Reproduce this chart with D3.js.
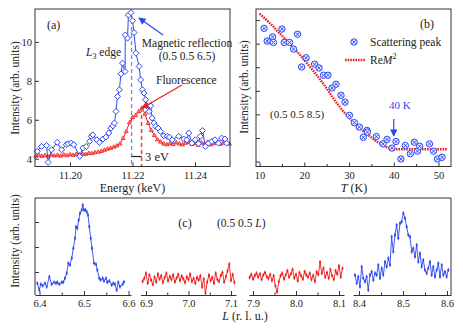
<!DOCTYPE html>
<html>
<head>
<meta charset="utf-8">
<script src="https://cdn.jsdelivr.net/npm/d3@7"></script>
<style>
  body { margin: 0; background: #fff; }
  svg text { font-family: "Liberation Serif", "Times New Roman", "DejaVu Serif", serif; }
  .tick text { font-size: 10.5px; fill: #222; }
  .tick line { stroke: #333; }
</style>
</head>
<body>
<svg id="chart" width="463" height="328"></svg>
<script>
// ---- panel (a): energy scans at the L3 edge ----
const aBlueE = [11.1895, 11.1909, 11.1925, 11.1930, 11.1941, 11.1959, 11.1973, 11.1988, 11.1994, 11.2004,
  11.2012, 11.2031, 11.2041, 11.2052, 11.2063, 11.2068, 11.2073, 11.2086, 11.2094, 11.2105,
  11.2115, 11.2124, 11.2131, 11.2137, 11.2142, 11.2147, 11.2152, 11.2158, 11.2163, 11.2168,
  11.2176, 11.2177, 11.2184, 11.2187, 11.2195, 11.2200, 11.2205, 11.2211, 11.2221, 11.2226,
  11.2232, 11.2237, 11.2242, 11.2248, 11.2253, 11.2258, 11.2263, 11.2269, 11.2274, 11.2282,
  11.2290, 11.2300, 11.2311, 11.2318, 11.2327, 11.2348, 11.2364, 11.2374, 11.2380, 11.2390,
  11.2401, 11.2411, 11.2417, 11.2424, 11.2433, 11.2443, 11.2454, 11.2464, 11.2475, 11.2485,
  11.2496, 11.2501];
const aBlueI = [4.38, 4.63, 4.68, 3.81, 4.46, 4.84, 4.46, 4.72, 4.77, 4.80,
  4.72, 4.12, 4.55, 4.63, 4.89, 5.15, 5.23, 4.97, 4.84, 5.01,
  5.11, 5.32, 5.57, 5.69, 5.83, 6.43, 7.20, 7.54, 8.36, 8.91,
  8.48, 10.36, 10.19, 11.38, 11.50, 11.09, 10.48, 9.42, 8.74, 8.05,
  7.54, 7.37, 7.03, 6.68, 6.43, 6.72, 6.09, 5.83, 5.66, 5.57,
  5.40, 5.18, 5.15, 5.11, 4.97, 5.15, 5.01, 4.97, 5.32, 4.80,
  4.97, 4.77, 5.15, 5.45, 4.63, 4.80, 4.89, 4.97, 4.80, 5.06,
  5.01, 4.80];
const aRedE = [11.189, 11.190, 11.191, 11.192, 11.193, 11.194, 11.195, 11.196, 11.197, 11.198,
  11.199, 11.200, 11.201, 11.202, 11.203, 11.204, 11.205, 11.206, 11.207, 11.208,
  11.209, 11.210, 11.211, 11.212, 11.213, 11.214, 11.215, 11.216, 11.217, 11.218,
  11.219, 11.220, 11.221, 11.222, 11.223, 11.224, 11.225, 11.226, 11.227, 11.228,
  11.229, 11.230, 11.231, 11.232, 11.233, 11.234, 11.235, 11.236, 11.237, 11.238,
  11.239, 11.240, 11.241, 11.242, 11.243, 11.244, 11.245, 11.246, 11.247, 11.248,
  11.249, 11.250, 11.251];
const aRedI = [4.12, 4.18, 4.13, 4.17, 4.11, 4.19, 4.15, 4.18, 4.14, 4.20,
  4.16, 4.21, 4.18, 4.23, 4.20, 4.25, 4.23, 4.28, 4.27, 4.32,
  4.34, 4.38, 4.44, 4.50, 4.54, 4.60, 4.66, 4.76, 5.05, 5.40,
  5.85, 6.12, 6.22, 6.42, 6.60, 6.30, 5.82, 5.45, 5.20, 4.98,
  4.86, 4.76, 4.72, 4.78, 4.74, 4.82, 4.76, 4.72, 4.80, 4.84,
  4.74, 4.79, 4.70, 4.82, 4.76, 4.85, 4.72, 4.78, 4.83, 4.74,
  4.80, 4.86, 4.76];
const aPeakE = [11.2197, 11.2229];          // blue (magnetic) and red (fluorescence) maxima
const aTicksX = [11.20, 11.22, 11.24];
const aTicksY = [4, 6, 8, 10];

// ---- panel (b): temperature dependence ----
const bPeakT = [11.0, 11.7, 12.5, 12.9, 13.1, 15.0, 15.5, 16.7, 17.6, 18.5,
  19.4, 20.4, 22.3, 23.3, 24.3, 25.3, 26.2, 27.1, 28.2, 29.1,
  30.1, 31.2, 32.3, 33.2, 34.0, 34.1, 36.1, 37.6, 38.5, 39.6,
  40.5, 41.6, 42.6, 43.7, 44.6, 45.3, 45.8, 48.0, 48.9, 49.8, 50.8];
const bPeakI = [5.65, 5.11, 5.11, 5.29, 5.05, 5.62, 5.05, 5.05, 4.77, 5.40,
  4.01, 4.40, 4.13, 3.97, 3.66, 3.66, 3.12, 3.28, 2.81, 2.52,
  1.96, 1.65, 1.46, 1.03, 1.32, 1.25, 1.06, 0.75, 0.94, 0.57,
  0.85, 0.11, 0.68, 0.33, 0.82, 0.44, 0.65, 0.75, 0.44, 0.11, 0.18];
const bReT = [10, 11, 12, 13, 14, 15, 16, 17, 18, 19, 20, 21, 22, 23, 24, 25, 26, 27, 28, 29,
  30, 31, 32, 33, 34, 35, 36, 37, 38, 39, 40, 42, 45, 48, 52];
const bReI = [6.27, 6.10, 5.92, 5.74, 5.53, 5.34, 5.15, 4.95, 4.74, 4.53, 4.31, 4.08, 3.85, 3.61,
  3.36, 3.10, 2.82, 2.55, 2.30, 2.07, 1.86, 1.67, 1.49, 1.32, 1.17, 1.02, 0.88, 0.76, 0.65, 0.56,
  0.52, 0.52, 0.52, 0.52, 0.52];
const bTicksX = [10, 20, 30, 40, 50];
const bMinorX = [15, 25, 35, 45];
const bTicksY = [0, 1, 2, 3, 4, 5, 6];
const bTransitionT = 40;

// ---- panel (c): L scans along (0.5 0.5 L) ----
const c1L = [6.3951, 6.3996, 6.4027, 6.4072, 6.4124, 6.4162, 6.4221, 6.4274, 6.4326, 6.4371,
  6.4400, 6.4445, 6.4499, 6.4535, 6.4573, 6.4611, 6.4647, 6.4685, 6.4724, 6.4760,
  6.4798, 6.4820, 6.4850, 6.4881, 6.4910, 6.4948, 6.4971, 6.5000, 6.5029, 6.5061,
  6.5090, 6.5119, 6.5151, 6.5180, 6.5225, 6.5270, 6.5299, 6.5344, 6.5375, 6.5420,
  6.5449, 6.5494, 6.5524, 6.5569, 6.5622, 6.5658, 6.5697, 6.5735, 6.5771, 6.5809,
  6.5870, 6.5899];
const c1I = [0.55, 0.28, 0.51, 0.45, 0.55, 0.41, 0.81, 0.51, 0.59, 0.55,
  0.59, 0.51, 0.59, 0.59, 0.75, 0.95, 1.35, 1.28, 1.55, 1.95,
  2.35, 2.81, 2.75, 3.08, 3.35, 3.48, 3.68, 3.48, 3.48, 3.41,
  3.28, 2.81, 2.35, 1.95, 1.35, 1.31, 1.08, 0.75, 0.68, 0.75,
  0.64, 0.75, 0.59, 0.64, 0.48, 0.55, 0.51, 0.28, 0.59, 0.41,
  0.51, 0.61];
const c2L = [6.892, 6.896, 6.900, 6.904, 6.908, 6.912, 6.916, 6.920, 6.924, 6.928,
  6.932, 6.936, 6.940, 6.944, 6.948, 6.952, 6.956, 6.960, 6.964, 6.968,
  6.972, 6.976, 6.980, 6.984, 6.988, 6.992, 6.996, 7.000, 7.004, 7.008,
  7.012, 7.016, 7.020, 7.024, 7.028, 7.032, 7.036, 7.040, 7.044, 7.048,
  7.052, 7.056, 7.060, 7.064, 7.068, 7.072, 7.076, 7.080, 7.084, 7.088,
  7.092, 7.096, 7.100, 7.104, 7.108];
const c2I = [0.62, 0.75, 0.95, 0.55, 0.88, 0.68, 0.50, 0.80, 0.60, 0.92,
  0.72, 0.85, 0.58, 0.78, 0.95, 0.65, 0.82, 0.70, 0.88, 0.60,
  0.76, 0.90, 0.66, 0.84, 0.72, 0.58, 0.80, 0.70, 0.92, 0.62,
  0.74, 0.55, 0.78, 0.68, 0.85, 0.40, 0.72, 0.16, 0.60, 0.88,
  0.66, 0.78, 0.55, 0.95, 0.70, 0.62, 0.86, 0.98, 0.60, 0.82,
  1.05, 1.32, 0.66, 0.90, 0.58];
const c3L = [7.892, 7.896, 7.900, 7.904, 7.908, 7.912, 7.916, 7.920, 7.924, 7.928,
  7.932, 7.936, 7.940, 7.944, 7.948, 7.952, 7.956, 7.960, 7.964, 7.968,
  7.972, 7.976, 7.980, 7.984, 7.988, 7.992, 7.996, 8.000, 8.004, 8.008,
  8.012, 8.016, 8.020, 8.024, 8.028, 8.032, 8.036, 8.040, 8.044, 8.048,
  8.052, 8.056, 8.060, 8.064, 8.068, 8.072, 8.076, 8.080, 8.084, 8.088,
  8.092, 8.096, 8.100, 8.104, 8.108];
const c3I = [0.78, 0.90, 0.72, 0.85, 0.95, 0.80, 0.92, 0.70, 0.88, 0.98,
  0.82, 0.74, 0.90, 0.66, 0.85, 0.45, 0.20, 0.62, 0.85, 0.95,
  0.72, 0.88, 1.05, 0.80, 0.92, 1.10, 0.76, 0.90, 0.65, 0.98,
  0.84, 0.72, 1.02, 0.88, 0.80, 0.95, 0.70, 0.86, 0.62, 1.00,
  0.90, 1.40, 0.95, 1.15, 0.80, 0.98, 0.75, 1.10, 0.85, 0.70,
  1.05, 0.92, 1.25, 0.80, 1.15];
const c4L = [8.3909, 8.3948, 8.3985, 8.4023, 8.4061, 8.4098, 8.4136, 8.4174, 8.4212, 8.4250,
  8.4288, 8.4326, 8.4364, 8.4402, 8.4439, 8.4477, 8.4515, 8.4553, 8.4591, 8.4629,
  8.4667, 8.4705, 8.4742, 8.4780, 8.4818, 8.4856, 8.4894, 8.4932, 8.4970, 8.5008,
  8.5045, 8.5083, 8.5121, 8.5159, 8.5197, 8.5235, 8.5273, 8.5311, 8.5348, 8.5386,
  8.5424, 8.5462, 8.5500, 8.5538, 8.5576, 8.5614, 8.5652, 8.5689, 8.5727, 8.5765,
  8.5803, 8.5841, 8.5879, 8.5917, 8.5955, 8.5992, 8.6030];
const c4I = [0.88, 0.55, 0.81, 0.41, 1.21, 0.75, 0.61, 0.81, 0.28, 0.88,
  1.01, 0.68, 0.95, 0.88, 1.28, 0.75, 1.15, 0.88, 1.41, 1.21,
  1.55, 1.28, 2.41, 1.81, 2.48, 2.88, 2.35, 2.95, 3.01, 3.35,
  3.15, 2.81, 2.48, 2.41, 1.81, 1.95, 1.61, 2.08, 1.41, 1.75,
  1.21, 1.48, 1.08, 0.95, 1.15, 1.41, 0.88, 1.21, 0.81, 1.08,
  1.35, 0.81, 1.28, 0.88, 1.01, 0.81, 1.08];
const cMajor = [[6.4, 6.5, 6.6], [6.9, 7.0, 7.1], [7.9, 8.0, 8.1], [8.4, 8.5, 8.6]];
const cMinor = [[6.45, 6.55], [6.95, 7.05], [7.95, 8.05], [8.45, 8.55]];
const cTicksY = [1, 2, 3];
const cErr = 0.08;

const BLUE = "#2b47f2", RED = "#f11c1c", INK = "#222";
const svg = d3.select("#chart");
const pairs = (xs, ys) => xs.map((x, i) => [x, ys[i]]);

function frame(x0, y0, x1, y1) {
  svg.append("rect").attr("x", x0).attr("y", y0).attr("width", x1 - x0).attr("height", y1 - y0)
    .attr("fill", "none").attr("stroke", "#333").attr("stroke-width", 1);
}
function label(x, y, parts, opts = {}) {
  const t = svg.append("text").attr("x", x).attr("y", y)
    .attr("font-size", opts.size || 11.5).attr("fill", opts.fill || INK)
    .attr("text-anchor", opts.anchor || "start");
  if (opts.rotate) t.attr("transform", `rotate(-90,${x},${y})`);
  parts.forEach(p => {
    const s = t.append("tspan").text(p.t);
    if (p.i) s.attr("font-style", "italic");
    if (p.sub) s.attr("font-size", "0.7em").attr("dy", 3);
    if (p.sup) s.attr("font-size", "0.7em").attr("dy", -5);
    if (p.back) s.attr("dy", p.back);
  });
  return t;
}
function arrowHead(id, color) {
  svg.append("defs").append("marker").attr("id", id)
    .attr("viewBox", "0 0 10 10").attr("refX", 9).attr("refY", 5)
    .attr("markerWidth", 7).attr("markerHeight", 6).attr("orient", "auto")
    .append("path").attr("d", "M0,0 L10,5 L0,10 Z").attr("fill", color);
}
arrowHead("ah-blue", BLUE);
arrowHead("ah-red", RED);

// ================= panel (a) =================
const ax = d3.scaleLinear().domain([11.1888, 11.2512]).range([35, 230]);
const ay = d3.scaleLinear().domain([3.6, 11.69]).range([166.5, 9]);

svg.append("g").attr("transform", "translate(0,166.5)")
  .call(d3.axisBottom(ax).tickValues(aTicksX).tickFormat(d3.format(".2f")).tickSizeInner(-4).tickSizeOuter(0).tickPadding(5))
  .call(g => g.select(".domain").remove());
svg.append("g").attr("transform", "translate(35,0)")
  .call(d3.axisLeft(ay).tickValues(aTicksY).tickSizeInner(-4).tickSizeOuter(0).tickPadding(3))
  .call(g => g.select(".domain").remove());

// dashed guides at the two maxima
svg.append("line").attr("x1", ax(aPeakE[0])).attr("x2", ax(aPeakE[0])).attr("y1", 13).attr("y2", 166.5)
  .attr("stroke", "#7283f2").attr("stroke-width", 1.3).attr("stroke-dasharray", "4,3");

const lineA = d3.line().x(d => ax(d[0])).y(d => ay(d[1]));
const redA = pairs(aRedE, aRedI);
svg.append("path").datum(redA).attr("d", lineA).attr("fill", "none").attr("stroke", RED).attr("stroke-width", 1);
svg.append("g").selectAll("path").data(redA).join("path")
  .attr("transform", d => `translate(${ax(d[0])},${ay(d[1])})`)
  .attr("d", "M0,-2.3 L2,1.2 L-2,1.2 Z").attr("fill", "#ff8a8a").attr("stroke", RED).attr("stroke-width", 0.8);

svg.append("line").attr("x1", ax(aPeakE[1])).attr("x2", ax(aPeakE[1])).attr("y1", ay(6.6)).attr("y2", 166.5)
  .attr("stroke", "#f04848").attr("stroke-width", 1.6).attr("stroke-dasharray", "4,3");

const blueA = pairs(aBlueE, aBlueI);
svg.append("path").datum(blueA).attr("d", lineA).attr("fill", "none").attr("stroke", BLUE).attr("stroke-width", 1);
svg.append("g").selectAll("path").data(blueA).join("path")
  .attr("transform", d => `translate(${ax(d[0])},${ay(d[1])})`)
  .attr("d", "M0,-3 L3,0 L0,3 L-3,0 Z").attr("fill", "#fff").attr("stroke", BLUE).attr("stroke-width", 1);

frame(35, 9, 230, 166.5);

// 3 eV bar
svg.append("line").attr("x1", ax(aPeakE[0])).attr("x2", ax(aPeakE[1])).attr("y1", 156.5).attr("y2", 156.5)
  .attr("stroke", INK).attr("stroke-width", 1.2);
label(145, 161, [{ t: "3 eV" }], { size: 12.5 });

label(47, 29, [{ t: "(a)" }], { size: 12 });
label(86, 56, [{ t: "L", i: true }, { t: "3", sub: true }, { t: " edge", back: -3 }], { size: 11.5 });
label(187, 47, [{ t: "Magnetic reflection" }], { size: 11.5, anchor: "middle" });
label(187, 60, [{ t: "(0.5 0.5 6.5)" }], { size: 11.5, anchor: "middle" });
label(156, 84, [{ t: "Fluorescence" }], { size: 11.5 });
svg.append("line").attr("x1", 163).attr("y1", 35).attr("x2", 139).attr("y2", 18)
  .attr("stroke", BLUE).attr("stroke-width", 1.2).attr("marker-end", "url(#ah-blue)");
svg.append("line").attr("x1", 182).attr("y1", 85).attr("x2", 142).attr("y2", 108)
  .attr("stroke", RED).attr("stroke-width", 1.2).attr("marker-end", "url(#ah-red)");

label(132.5, 192, [{ t: "Energy (keV)" }], { size: 12, anchor: "middle" });
label(19, 88, [{ t: "Intensity (arb. units)" }], { size: 11.5, anchor: "middle", rotate: true });

// ================= panel (b) =================
const bx = d3.scaleLinear().domain([9.2, 52.8]).range([256, 451]);
const by = d3.scaleLinear().domain([-0.21, 6.47]).range([166.5, 9]);

svg.append("g").attr("transform", "translate(0,166.5)")
  .call(d3.axisBottom(bx).tickValues(bTicksX).tickSizeInner(-4).tickSizeOuter(0).tickPadding(5))
  .call(g => g.select(".domain").remove());
svg.append("g").attr("transform", "translate(0,166.5)")
  .call(d3.axisBottom(bx).tickValues(bMinorX).tickFormat("").tickSizeInner(-2.5).tickSizeOuter(0))
  .call(g => g.select(".domain").remove());
svg.append("g").attr("transform", "translate(256,0)")
  .call(d3.axisLeft(by).tickValues(bTicksY).tickFormat("").tickSizeInner(-4).tickSizeOuter(0))
  .call(g => g.select(".domain").remove());

const lineB = d3.line().x(d => bx(d[0])).y(d => by(d[1])).curve(d3.curveMonotoneX);
svg.append("path").datum(pairs(bReT, bReI)).attr("d", lineB).attr("fill", "none")
  .attr("stroke", RED).attr("stroke-width", 2.4).attr("stroke-dasharray", "1.6,1");

function crossCircle(g, r) {
  g.append("circle").attr("r", r).attr("fill", "#e6eaff").attr("stroke", BLUE).attr("stroke-width", 1);
  const k = r * 0.55;
  g.append("path").attr("d", `M${-k},${-k}L${k},${k}M${-k},${k}L${k},${-k}`)
    .attr("stroke", BLUE).attr("stroke-width", 0.9);
}
svg.append("g").selectAll("g").data(pairs(bPeakT, bPeakI)).join("g")
  .attr("transform", d => `translate(${bx(d[0])},${by(d[1])})`)
  .each(function () { crossCircle(d3.select(this), 3.2); });

frame(256, 9, 451, 166.5);

label(420, 28, [{ t: "(b)" }], { size: 12 });
crossCircle(svg.append("g").attr("transform", "translate(354,42)"), 3.2);
label(370, 46, [{ t: "Scattering peak" }], { size: 11.5 });
svg.append("line").attr("x1", 345).attr("x2", 365).attr("y1", 60).attr("y2", 60)
  .attr("stroke", RED).attr("stroke-width", 2.4).attr("stroke-dasharray", "1.6,1");
label(370, 64, [{ t: "Re" }, { t: "M", i: true }, { t: "2", sup: true }], { size: 11.5 });
label(270, 117.5, [{ t: "(0.5 0.5 8.5)" }], { size: 11 });
label(bx(bTransitionT) + 6, 109, [{ t: "40 K" }], { size: 11, anchor: "middle", fill: BLUE });
svg.append("line").attr("x1", bx(bTransitionT)).attr("x2", bx(bTransitionT)).attr("y1", 119).attr("y2", 136)
  .attr("stroke", BLUE).attr("stroke-width", 1.2).attr("marker-end", "url(#ah-blue)");

label(354, 192, [{ t: "T", i: true }, { t: " (K)" }], { size: 12, anchor: "middle" });
label(248, 87, [{ t: "Intensity (arb. units)" }], { size: 11.5, anchor: "middle", rotate: true });

// ================= panel (c) =================
const cy = d3.scaleLinear().domain([0.08, 3.96]).range([295, 198]);
const cSegs = [
  { dom: [6.3899, 6.6056], px: [35, 131], L: c1L, I: c1I, color: BLUE },
  { dom: [6.8871, 7.1118], px: [140.5, 236], L: c2L, I: c2I, color: RED },
  { dom: [7.8907, 8.1116], px: [249, 344], L: c3L, I: c3I, color: RED },
  { dom: [8.3864, 8.6091], px: [353, 451], L: c4L, I: c4I, color: BLUE }
];
cSegs.forEach((s, k) => {
  const sx = d3.scaleLinear().domain(s.dom).range(s.px);
  svg.append("g").attr("transform", "translate(0,295)")
    .call(d3.axisBottom(sx).tickValues(cMajor[k]).tickFormat(d3.format(".1f")).tickSizeInner(-4).tickSizeOuter(0).tickPadding(5))
    .call(g => g.select(".domain").attr("stroke", "#333"));
  svg.append("g").attr("transform", "translate(0,295)")
    .call(d3.axisBottom(sx).tickValues(cMinor[k]).tickFormat("").tickSizeInner(-2.5).tickSizeOuter(0))
    .call(g => g.select(".domain").remove());
  const pts = pairs(s.L, s.I);
  svg.append("path").datum(pts).attr("fill", "none").attr("stroke", s.color).attr("stroke-width", 0.9)
    .attr("d", d3.line().x(d => sx(d[0])).y(d => cy(d[1])));
  svg.append("g").selectAll("line").data(pts).join("line")
    .attr("x1", d => sx(d[0])).attr("x2", d => sx(d[0]))
    .attr("y1", d => cy(d[1] - cErr)).attr("y2", d => cy(d[1] + cErr))
    .attr("stroke", s.color).attr("stroke-width", 0.8);
  svg.append("g").selectAll("circle").data(pts).join("circle")
    .attr("cx", d => sx(d[0])).attr("cy", d => cy(d[1])).attr("r", 1.1).attr("fill", s.color);
});
svg.append("g").attr("transform", "translate(35,0)")
  .call(d3.axisLeft(cy).tickValues(cTicksY).tickFormat("").tickSizeInner(-4).tickSizeOuter(0))
  .call(g => g.select(".domain").remove());
svg.append("path").attr("d", "M35,295 V198 H451 V295").attr("fill", "none").attr("stroke", "#333");

label(185, 227, [{ t: "(c)" }], { size: 12, anchor: "middle" });
label(217, 227, [{ t: "(0.5 0.5 " }, { t: "L", i: true }, { t: ")" }], { size: 11.5 });
label(245, 320, [{ t: "L", i: true }, { t: " (r. l. u.)" }], { size: 12, anchor: "middle" });
label(19, 241, [{ t: "Intensity (arb. units)" }], { size: 11.5, anchor: "middle", rotate: true });
</script>
</body>
</html>
